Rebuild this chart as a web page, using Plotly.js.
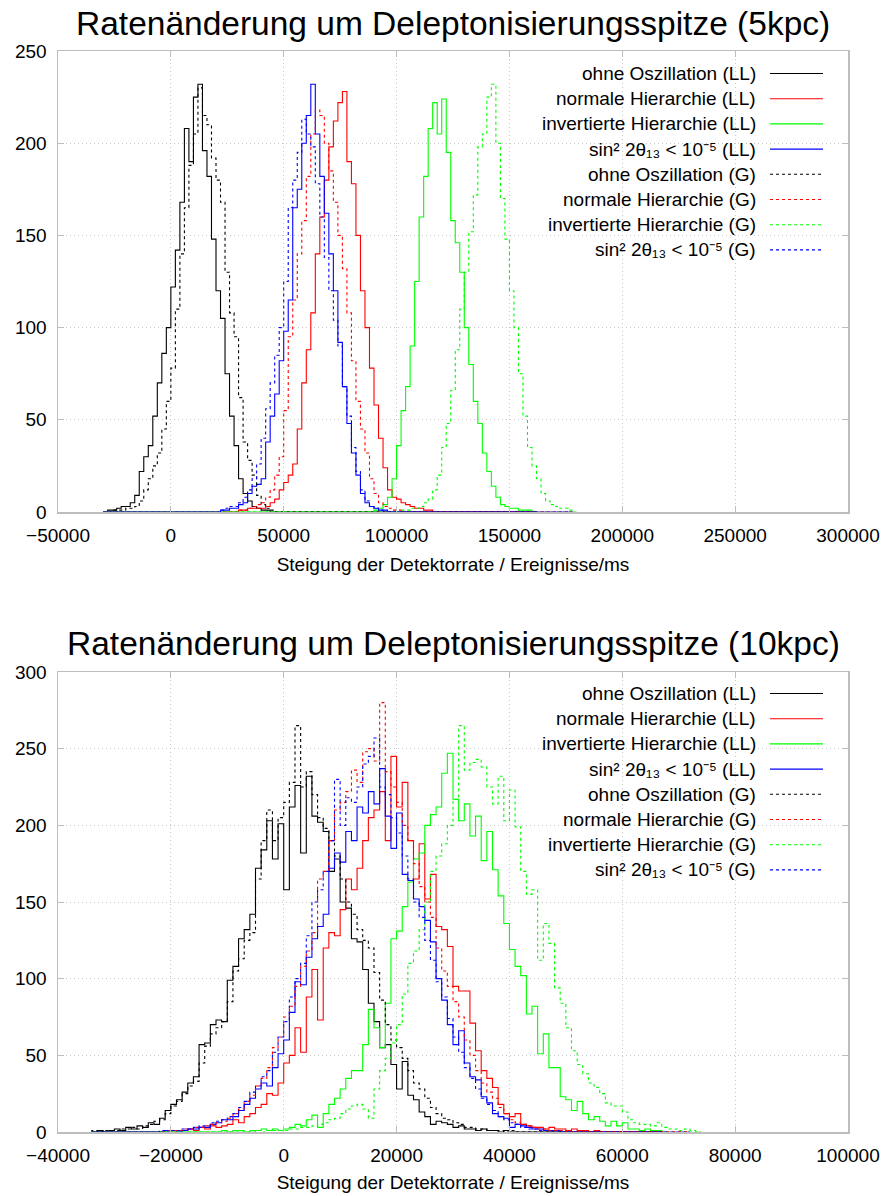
<!DOCTYPE html>
<html>
<head>
<meta charset="utf-8">
<script src="https://cdn.plot.ly/plotly-3.0.1.min.js"></script>
<style>html,body{margin:0;padding:0;background:#fff;}#chart{width:886px;height:1196px;}</style>
</head>
<body>
<div id="chart"></div>
<script>
// ---------- DATA ----------
const seriesNames = [
  "ohne Oszillation (LL)",
  "normale Hierarchie (LL)",
  "invertierte Hierarchie (LL)",
  "sin² 2θ₁₃ &lt; 10⁻⁵ (LL)",
  "ohne Oszillation (G)",
  "normale Hierarchie (G)",
  "invertierte Hierarchie (G)",
  "sin² 2θ₁₃ &lt; 10⁻⁵ (G)"
];
const titleTop = "Ratenänderung um Deleptonisierungsspitze (5kpc)";
const titleBottom = "Ratenänderung um Deleptonisierungsspitze (10kpc)";
const xAxisTitle = "Steigung der Detektorrate / Ereignisse/ms";

// Top panel (5 kpc): bin width 2000
const topBin = 2000;
const topRange = [-30000, 162000, 178000]; // start, end (LL), end (G)
const topBlackLLStart = -30000;
const topBlackLL = [0,1,1,2,3,3,5,9,22,30,36,52,70,86,100,122,142,168,208,190,225,232,196,182,148,120,105,75,52,36,18,10,6,3,2,1,1,0];
const topRedLLStart = 28000;
const topRedLL = [0,1,1,2,2,2,2,3,5,7,12,16,20,26,45,70,88,108,140,160,180,198,212,222,228,190,178,150,120,100,78,58,40,24,12,8,7,5,4,3,2,2,1,1,0];
const topGreenLLStart = 88000;
const topGreenLL = [0,1,2,4,8,18,36,55,68,90,125,160,182,208,222,205,224,195,158,146,130,100,80,60,48,32,22,14,8,4,3,2,2,1,1,1,0];
const topBlueLLStart = 20000;
const topBlueLL = [0,1,1,2,2,4,5,10,14,15,18,38,52,64,82,98,115,165,175,200,215,232,205,182,162,140,120,92,68,48,32,20,10,5,3,2,1,1,0];
const topBlackGStart = -30000;
const topBlackG = [0,0,1,1,1,2,2,3,6,12,18,25,32,45,60,78,110,140,165,188,205,230,215,210,192,180,168,130,108,95,62,38,28,20,9,4,2,1,0];
const topRedGStart = 28000;
const topRedG = [0,1,1,2,3,4,5,8,12,20,30,55,95,115,140,158,182,205,218,215,200,185,168,150,132,108,82,60,45,32,18,10,5,3,2,1,1,0];
const topGreenGStart = 100000;
const topGreenG = [0,1,1,2,2,3,5,7,12,20,35,48,66,88,110,130,152,172,198,205,225,232,200,170,148,120,100,75,52,35,25,18,10,6,4,3,2,2,1,0];
const topBlueGStart = 20000;
const topBlueG = [0,1,2,3,3,5,8,12,18,26,40,56,70,85,100,125,165,180,195,213,205,198,178,160,138,120,104,90,68,52,35,22,12,6,3,2,1,0];

// Bottom panel (10 kpc): bin width 1000
const botBin = 1000;
const botRange = [-34000, 67000, 72000];
const botBlackLLStart = -34000;
const botBlackLL = [0,1,0,1,2,1,3,2,4,3, 6,5,9,14,18,21,26,32,36,57, 58,70,73,72,99,108,126,132,142,172, 184,203,178,201,158,212,226,182,232,206, 202,196,170,178,150,146,126,124,106,84, 72,55,57,44,28,46,24,21,13,10, 5,7,6,5,3,4,2,2,1,2, 1,1,0,1,0];
const botRedLLStart = -22000;
const botRedLL = [0,1,0,1,1,2,1,3,2,4, 3,4,5,8,6,10,12,16,18,25, 24,32,45,50,68,52,88,106,73,120, 130,128,145,165,158,172,190,205,210,222, 190,245,212,228,190,165,188,152,168,134, 132,121,95,92,92,71,53,40,35,29, 18,12,10,12,5,4,3,3,2,3, 2,2,1,2,1,1,0,1,0];
const botGreenLLStart = -12000;
const botGreenLL = [0,1,0,1,1,0,1,1,2,1, 2,1,2,3,5,4,8,11,3,12, 18,22,28,35,40,40,57,80,68,55, 84,126,131,147,163,178,182,200,207,212, 234,247,217,203,214,193,206,177,196,171, 154,136,119,108,102,77,82,51,64,42, 42,23,21,14,20,12,8,10,7,4, 7,4,6,2,2,1,2,1,1,0];
const botBlueLLStart = -22000;
const botBlueLL = [0,1,1,0,1,2,2,3,3,5, 6,8,8,10,14,18,22,28,32,30, 42,51,60,78,98,96,114,126,134,142, 172,182,176,196,190,212,208,222,214,237, 206,185,208,168,164,152,147,138,124,100, 86,70,57,66,45,36,34,23,19,12, 10,9,3,5,4,3,2,2,1,1, 1,0];
const botBlackGStart = -34000;
const botBlackG = [1,0,1,1,1,2,2,3,2,4, 5,7,8,12,17,20,25,30,33,45, 56,64,68,72,85,105,113,125,130,165, 190,210,190,205,215,228,265,225,235,220, 205,198,190,180,165,150,142,132,125,120, 104,86,70,60,55,48,40,32,28,22, 16,12,9,8,6,5,3,3,2,2, 1,1,1,0,1,0];
const botRedGStart = -22000;
const botRedG = [0,1,1,1,2,2,3,3,4,5, 6,7,9,12,15,20,24,30,35,42, 55,62,75,82,95,108,118,130,165,170, 190,210,215,222,236,228,248,250,242,280, 235,225,215,200,190,175,160,150,140,120, 105,95,85,75,60,50,40,32,26,22, 16,12,8,6,5,4,3,2,2,1, 1,1,0];
const botGreenGStart = -6000;
const botGreenG = [0,1,0,1,1,1,1,2,2,3, 3,4,5,6,8,9,12,15,17,18, 15,9,28,40,48,58,70,90,110,118, 132,150,170,180,188,200,217,265,236,241, 243,238,225,214,232,203,223,199,170,155, 158,112,136,123,94,84,68,53,44,38, 32,29,25,19,17,17,13,8,6,5, 5,4,6,3,2,2,1,2,1,0];
const botBlueGStart = -22000;
const botBlueG = [1,0,1,1,2,2,3,4,4,6, 7,8,10,12,16,20,26,30,36,40, 52,62,72,88,100,110,128,150,158,170, 190,230,200,218,215,225,240,245,257,225, 220,205,195,180,165,150,140,125,112,98, 88,74,62,52,42,35,28,22,18,14, 10,8,6,5,3,2,2,1,1,0];

// ---------- STYLE ----------
const colors = ["#000000", "#ff0000", "#00ff00", "#0000ff"];
const FONT = "Liberation Sans, Arial, Helvetica, sans-serif";

function steps(start, bw, counts, lo, hi) {
  const x = [lo], y = [0];
  counts.forEach((c, i) => { x.push(start + i * bw); y.push(c); });
  x.push(start + counts.length * bw); y.push(0);
  x.push(hi); y.push(0);
  return { x, y };
}

function makePanel(defs, bw, rng, xa, ya) {
  return defs.map((d, i) => {
    const isG = i >= 4;
    const s = steps(d[0], bw, d[1], rng[0], isG ? rng[2] : rng[1]);
    return {
      type: "scatter", mode: "lines", x: s.x, y: s.y,
      xaxis: xa, yaxis: ya, name: seriesNames[i], showlegend: false,
      hoverinfo: "skip",
      line: { shape: "hv", color: colors[i % 4], width: 1.1, dash: isG ? "3px,3px" : "solid" }
    };
  });
}

const traces = []
  .concat(makePanel([
    [topBlackLLStart, topBlackLL], [topRedLLStart, topRedLL], [topGreenLLStart, topGreenLL], [topBlueLLStart, topBlueLL],
    [topBlackGStart, topBlackG], [topRedGStart, topRedG], [topGreenGStart, topGreenG], [topBlueGStart, topBlueG]
  ], topBin, topRange, "x", "y"))
  .concat(makePanel([
    [botBlackLLStart, botBlackLL], [botRedLLStart, botRedLL], [botGreenLLStart, botGreenLL], [botBlueLLStart, botBlueLL],
    [botBlackGStart, botBlackG], [botRedGStart, botRedG], [botGreenGStart, botGreenG], [botBlueGStart, botBlueG]
  ], botBin, botRange, "x2", "y2"));

// ---------- LAYOUT ----------
const W = 886, H = 1196;
const M = { l: 58, r: 38, t: 51, b: 64 };
const plotH = H - M.t - M.b;           // 1081
const topDomain = [(1132 - 512) / plotH, 1];
const botDomain = [0, (1132 - 672) / plotH];

function axisCommon() {
  return {
    showgrid: true, gridcolor: "#c8c8c8", griddash: "1px,3px", gridwidth: 1,
    showline: true, linecolor: "#bdbdbd", linewidth: 1.5, mirror: "ticks",
    ticks: "inside", ticklen: 6, tickcolor: "#bdbdbd", zeroline: false,
    exponentformat: "none", separatethousands: false,
    tickfont: { family: FONT, size: 19, color: "#000" },
    ticklabelstandoff: 6, fixedrange: true
  };
}

const layout = {
  width: W, height: H, margin: M,
  separators: ".",
  paper_bgcolor: "#fff", plot_bgcolor: "#fff",
  font: { family: FONT, size: 19, color: "#000" },
  showlegend: false,
  xaxis: Object.assign(axisCommon(), { domain: [0, 1], anchor: "y", range: [-50000, 300000], tick0: 0, dtick: 50000,
    title: { text: xAxisTitle, font: { family: FONT, size: 19 }, standoff: 12 } }),
  yaxis: Object.assign(axisCommon(), { domain: topDomain, anchor: "x", range: [0, 250], tick0: 0, dtick: 50 }),
  xaxis2: Object.assign(axisCommon(), { domain: [0, 1], anchor: "y2", range: [-40000, 100000], tick0: 0, dtick: 20000,
    title: { text: xAxisTitle, font: { family: FONT, size: 19 }, standoff: 10 } }),
  yaxis2: Object.assign(axisCommon(), { domain: botDomain, anchor: "x2", range: [0, 300], tick0: 0, dtick: 50 }),
  annotations: [],
  shapes: []
};

// Panel titles
layout.annotations.push({ text: titleTop, xref: "paper", yref: "paper", x: 0.5, y: (1132 - 23) / plotH,
  xanchor: "center", yanchor: "middle", showarrow: false, font: { family: FONT, size: 33.5, color: "#000" } });
layout.annotations.push({ text: titleBottom, xref: "paper", yref: "paper", x: 0.5, y: (1132 - 643) / plotH,
  xanchor: "center", yanchor: "middle", showarrow: false, font: { family: FONT, size: 33.5, color: "#000" } });

// Key (text right-aligned, sample line to the right), one per panel
function addKey(xref, yref, domTopPx, domBotPx, firstRowPx) {
  const hpx = domBotPx - domTopPx;
  const textX = (758 - 58) / 790, l0 = (770 - 58) / 790, l1 = (823 - 58) / 790;
  seriesNames.forEach((nm, i) => {
    const py = firstRowPx + 25.2 * i;
    const yy = (domBotPx - py) / hpx;
    const isG = i >= 4;
    layout.annotations.push({ text: nm, xref: xref + " domain", yref: yref + " domain", x: textX,
      y: yy, xanchor: "right", yanchor: "middle", showarrow: false,
      font: { family: FONT, size: 19, color: "#000" } });
    layout.shapes.push({ type: "line", xref: xref + " domain", yref: yref + " domain", x0: l0, x1: l1, y0: yy, y1: yy,
      line: { color: colors[i % 4], width: 1.1, dash: isG ? "3px,3px" : "solid" } });
  });
}
addKey("x", "y", 51, 512, 73.5);
addKey("x2", "y2", 672, 1132, 693.5);

Plotly.newPlot("chart", traces, layout, { staticPlot: true, displayModeBar: false });
</script>
</body>
</html>
